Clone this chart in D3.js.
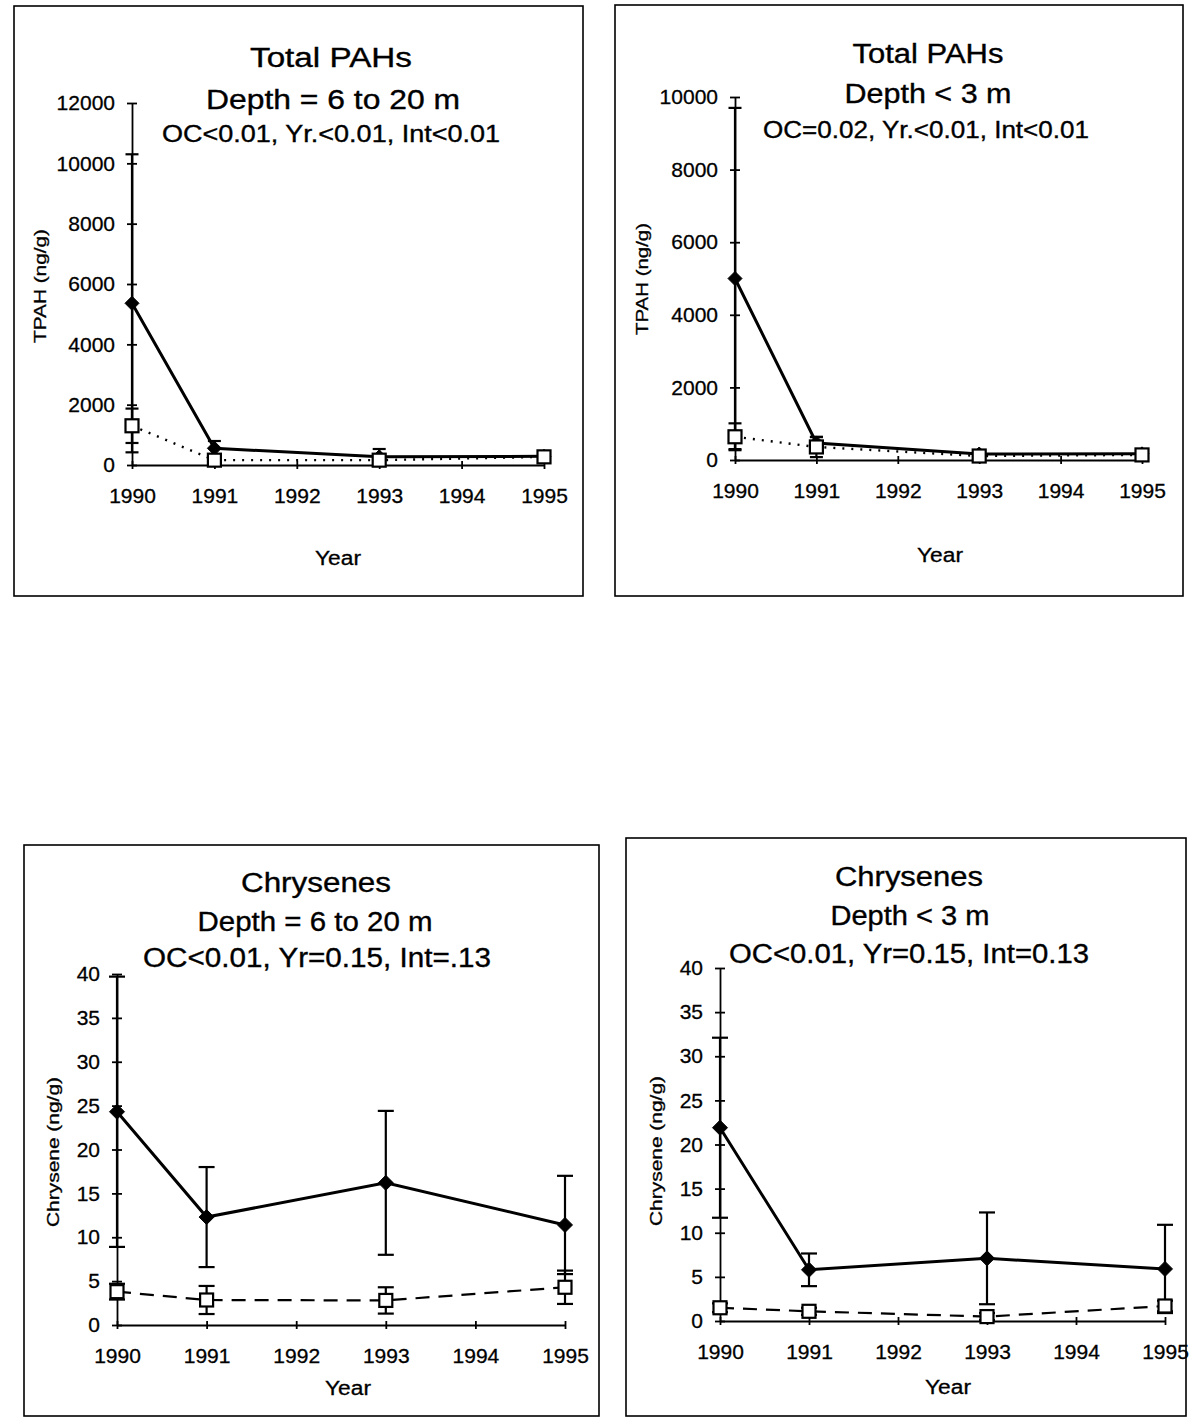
<!DOCTYPE html>
<html>
<head>
<meta charset="utf-8">
<script src="https://cdn.jsdelivr.net/npm/d3@7"></script>
<style>
  html, body { margin: 0; padding: 0; background: #fff; }
  svg { display: block; }
  text { font-family: "Liberation Sans", Arial, sans-serif; fill: #000; }
</style>
</head>
<body>
<script>
// ---------------- DATA ----------------
const years = [1990, 1991, 1993, 1995];
const xTickYears = [1990, 1991, 1992, 1993, 1994, 1995];

// Total PAHs, depth 6 to 20 m
const tpahDeepFilled    = [5360, 555, 270, 290];
const tpahDeepFilledErr = [4940, 240, 260, 140];
const tpahDeepOpen      = [1300, 160, 160, 270];
const tpahDeepOpenErr   = [570, 60, 60, 60];
const tpahDeepTicks     = [0, 2000, 4000, 6000, 8000, 10000, 12000];

// Total PAHs, depth < 3 m
const tpahShallowFilled    = [5000, 470, 165, 170];
const tpahShallowFilledErr = [4700, 160, 80, 60];
const tpahShallowOpen      = [640, 360, 110, 140];
const tpahShallowOpenErr   = [370, 280, 50, 50];
const tpahShallowTicks     = [0, 2000, 4000, 6000, 8000, 10000];

// Chrysenes, depth 6 to 20 m
const chrysDeepFilled    = [24.3, 12.3, 16.2, 11.4];
const chrysDeepFilledErr = [15.4, 5.7, 8.2, 5.6];
const chrysDeepOpen      = [3.8, 2.85, 2.8, 4.3];
const chrysDeepOpenErr   = [0.9, 1.6, 1.5, 1.9];

// Chrysenes, depth < 3 m
const chrysShallowFilled    = [21.9, 5.8, 7.1, 5.9];
const chrysShallowFilledErr = [10.2, 1.85, 5.2, 5.0];
const chrysShallowOpen      = [1.5, 1.1, 0.5, 1.7];
const chrysShallowOpenErr   = [0.5, 0.4, 0.4, 0.6];

const chrysTicks = [0, 5, 10, 15, 20, 25, 30, 35, 40];

const titlesP1 = ["Total PAHs", "Depth = 6 to 20 m", "OC<0.01, Yr.<0.01, Int<0.01"];
const titlesP2 = ["Total PAHs", "Depth < 3 m", "OC=0.02, Yr.<0.01, Int<0.01"];
const titlesP3 = ["Chrysenes", "Depth = 6 to 20 m", "OC<0.01, Yr=0.15, Int=.13"];
const titlesP4 = ["Chrysenes", "Depth < 3 m", "OC<0.01, Yr=0.15, Int=0.13"];
const yLabelTPAH = "TPAH (ng/g)";
const yLabelChrys = "Chrysene (ng/g)";
const xLabel = "Year";

// ---------------- LAYOUT ----------------
const panels = [
  {
    frame: [14, 6, 583, 596], xr: [132, 544], yr: [465, 103], ymax: 12000, ticks: tpahDeepTicks,
    titles: titlesP1, tpos: [[331, 58, 27, 162], [333, 100, 27, 254], [331, 134, 23, 338]],
    ylab: yLabelTPAH, ylpos: [40, 286, 114], xlpos: [338, 558],
    filled: tpahDeepFilled, filledErr: tpahDeepFilledErr, open: tpahDeepOpen, openErr: tpahDeepOpenErr,
    dash: "2,7", dashW: 2.4, cap: 13, sq: 13, dm: 7
  },
  {
    frame: [615, 5, 1183, 596], xr: [735, 1142], yr: [460, 97], ymax: 10000, ticks: tpahShallowTicks,
    titles: titlesP2, tpos: [[928, 54, 27, 151], [928, 94, 27, 167], [926, 130, 23, 326]],
    ylab: yLabelTPAH, ylpos: [642, 279, 112], xlpos: [940, 555],
    filled: tpahShallowFilled, filledErr: tpahShallowFilledErr, open: tpahShallowOpen, openErr: tpahShallowOpenErr,
    dash: "2,7", dashW: 2.4, cap: 13, sq: 13, dm: 7
  },
  {
    frame: [24, 845, 599, 1416], xr: [117, 565], yr: [1325, 974], ymax: 40, ticks: chrysTicks,
    titles: titlesP3, tpos: [[316, 883, 27, 150], [315, 922, 27, 235], [317, 958, 27, 348]],
    ylab: yLabelChrys, ylpos: [53, 1152, 150], xlpos: [348, 1388],
    filled: chrysDeepFilled, filledErr: chrysDeepFilledErr, open: chrysDeepOpen, openErr: chrysDeepOpenErr,
    dash: "14,9", dashW: 2.2, cap: 16, sq: 13, dm: 7.5
  },
  {
    frame: [626, 838, 1186, 1416], xr: [720, 1165], yr: [1321, 968], ymax: 40, ticks: chrysTicks,
    titles: titlesP4, tpos: [[909, 877, 27, 148], [910, 916, 27, 159], [909, 954, 27, 360]],
    ylab: yLabelChrys, ylpos: [656, 1151, 150], xlpos: [948, 1387],
    filled: chrysShallowFilled, filledErr: chrysShallowFilledErr, open: chrysShallowOpen, openErr: chrysShallowOpenErr,
    dash: "14,9", dashW: 2.2, cap: 16, sq: 13, dm: 7.5
  }
];

const W = 1189, H = 1420;
const svg = d3.select("body").append("svg").attr("width", W).attr("height", H);
svg.append("rect").attr("width", W).attr("height", H).attr("fill", "#fff");

panels.forEach(p => {
  const g = svg.append("g");
  const [fx0, fy0, fx1, fy1] = p.frame;
  g.append("rect").attr("x", fx0).attr("y", fy0).attr("width", fx1 - fx0).attr("height", fy1 - fy0)
    .attr("fill", "none").attr("stroke", "#000").attr("stroke-width", 1.6);

  const x = d3.scaleLinear().domain([1990, 1995]).range(p.xr);
  const y = d3.scaleLinear().domain([0, p.ymax]).range(p.yr);

  // titles
  p.titles.forEach((t, i) => {
    const [cx, cy, fs, w] = p.tpos[i];
    g.append("text").attr("x", cx).attr("y", cy).attr("text-anchor", "middle")
      .attr("dominant-baseline", "central").attr("font-size", fs)
      .attr("stroke", "#000").attr("stroke-width", 0.35)
      .attr("textLength", w).attr("lengthAdjust", "spacingAndGlyphs").text(t);
  });

  // axes
  const yAxis = d3.axisLeft(y).tickValues(p.ticks).tickFormat(d3.format("d"))
    .tickSizeInner(5).tickSizeOuter(0).tickPadding(12);
  const ya = g.append("g").attr("transform", `translate(${p.xr[0]},0)`).call(yAxis);
  ya.select(".domain").attr("stroke-width", 1.8);
  ya.selectAll(".tick line").attr("x1", 5).attr("stroke-width", 1.8);
  ya.selectAll(".tick text").attr("font-size", 21).attr("font-family", "Liberation Sans, Arial, sans-serif")
    .attr("fill", "#000").attr("stroke", "#000").attr("stroke-width", 0.3);

  const xAxis = d3.axisBottom(x).tickValues(xTickYears).tickFormat(d3.format("d"))
    .tickSizeInner(4).tickSizeOuter(0).tickPadding(19);
  const xa = g.append("g").attr("transform", `translate(0,${p.yr[0]})`).call(xAxis);
  xa.select(".domain").attr("stroke-width", 1.8);
  xa.selectAll(".tick line").attr("y1", -4).attr("stroke-width", 1.8);
  xa.selectAll(".tick text").attr("font-size", 21).attr("font-family", "Liberation Sans, Arial, sans-serif")
    .attr("fill", "#000").attr("stroke", "#000").attr("stroke-width", 0.3);

  // axis labels
  g.append("text").attr("transform", `translate(${p.ylpos[0]},${p.ylpos[1]}) rotate(-90)`)
    .attr("text-anchor", "middle").attr("dominant-baseline", "central").attr("font-size", 16)
    .attr("stroke", "#000").attr("stroke-width", 0.3)
    .attr("textLength", p.ylpos[2]).attr("lengthAdjust", "spacingAndGlyphs").text(p.ylab);
  g.append("text").attr("x", p.xlpos[0]).attr("y", p.xlpos[1]).attr("text-anchor", "middle")
    .attr("dominant-baseline", "central").attr("font-size", 20)
    .attr("stroke", "#000").attr("stroke-width", 0.3)
    .attr("textLength", 46).attr("lengthAdjust", "spacingAndGlyphs").text(xLabel);

  const line = d3.line().x((d, i) => x(years[i])).y(d => y(d));

  function errBars(vals, errs) {
    const eg = g.append("g").attr("stroke", "#000").attr("stroke-width", 2.2);
    vals.forEach((v, i) => {
      const cx = x(years[i]);
      const top = y(v + errs[i]), bot = y(Math.max(v - errs[i], 0));
      eg.append("line").attr("x1", cx).attr("x2", cx).attr("y1", top).attr("y2", bot);
      eg.append("line").attr("x1", cx - p.cap / 2).attr("x2", cx + p.cap / 2).attr("y1", top).attr("y2", top);
      eg.append("line").attr("x1", cx - p.cap / 2).attr("x2", cx + p.cap / 2).attr("y1", bot).attr("y2", bot);
    });
  }

  // filled diamond series (solid)
  g.append("path").datum(p.filled).attr("d", line).attr("fill", "none")
    .attr("stroke", "#000").attr("stroke-width", 3);
  // open square series (dotted / dashed)
  g.append("path").datum(p.open).attr("d", line).attr("fill", "none")
    .attr("stroke", "#000").attr("stroke-width", p.dashW).attr("stroke-dasharray", p.dash);

  errBars(p.filled, p.filledErr);
  errBars(p.open, p.openErr);

  // markers
  const d = p.dm;
  g.append("g").selectAll("path").data(p.filled).join("path")
    .attr("d", (v, i) => {
      const cx = x(years[i]), cy = y(v);
      return `M${cx},${cy - d}L${cx + d},${cy}L${cx},${cy + d}L${cx - d},${cy}Z`;
    })
    .attr("fill", "#000").attr("stroke", "#000").attr("stroke-width", 1);
  const s = p.sq;
  g.append("g").selectAll("rect").data(p.open).join("rect")
    .attr("x", (v, i) => x(years[i]) - s / 2).attr("y", v => y(v) - s / 2)
    .attr("width", s).attr("height", s)
    .attr("fill", "#fff").attr("stroke", "#000").attr("stroke-width", 2.2);
});
</script>
</body>
</html>
